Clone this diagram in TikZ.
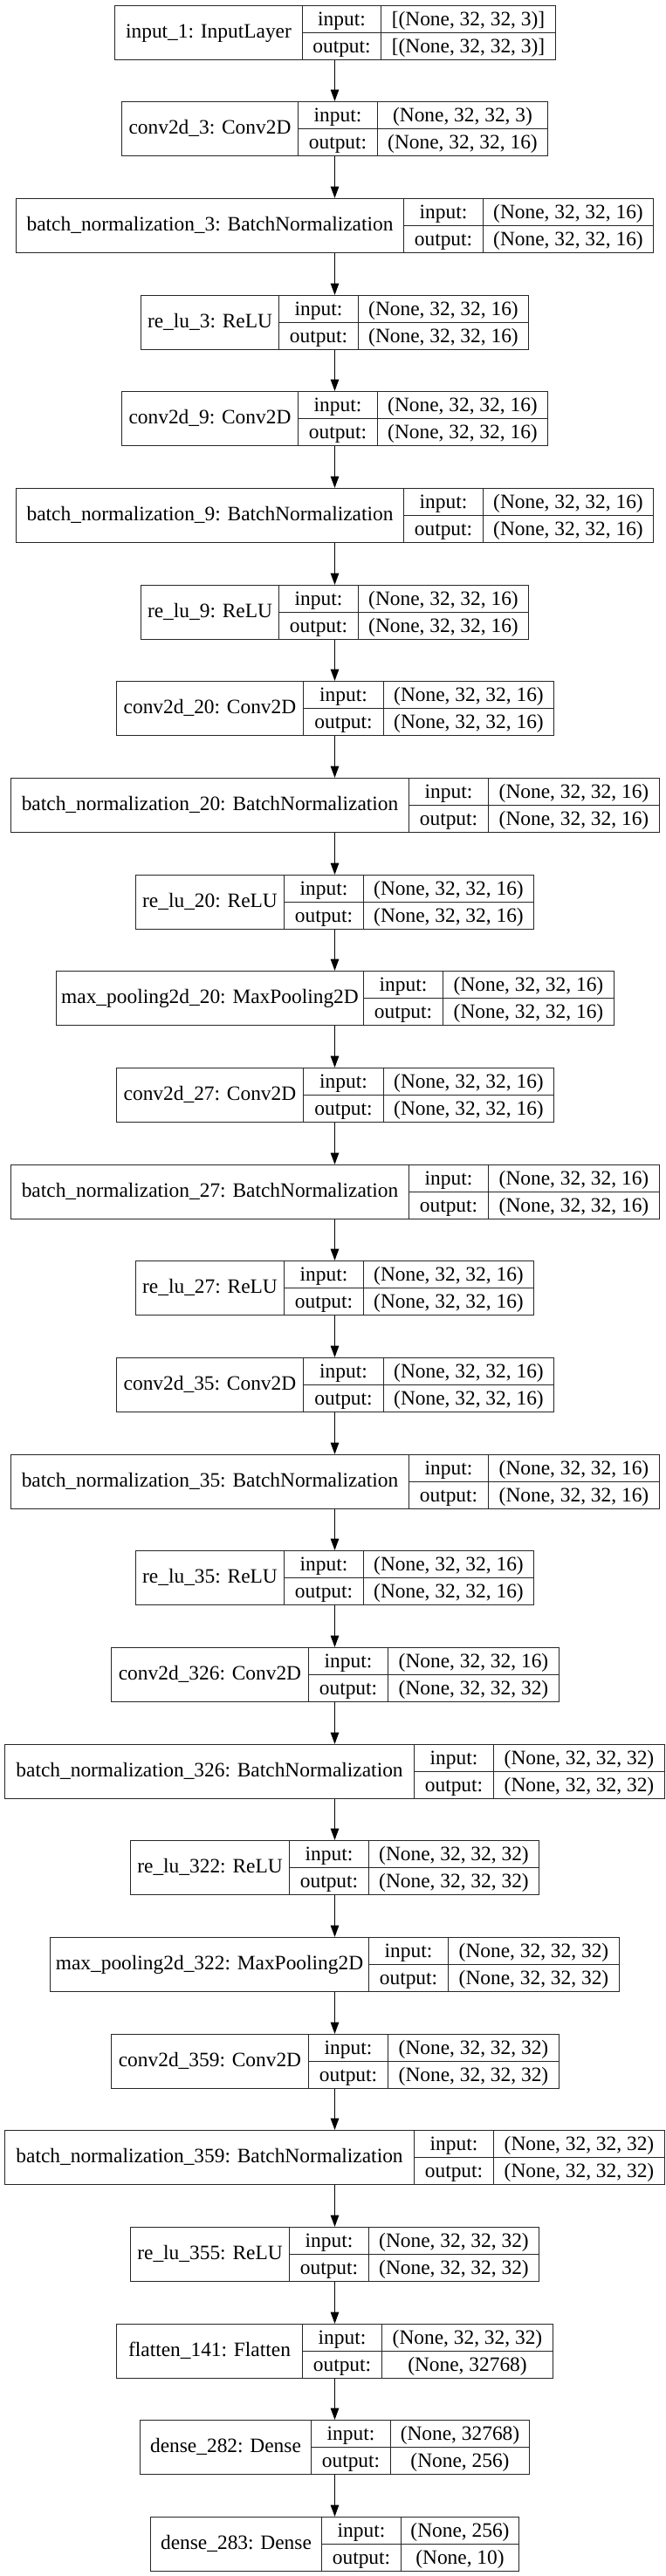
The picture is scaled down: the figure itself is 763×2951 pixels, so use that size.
\documentclass[tikz,border=0pt]{standalone}
\usepackage{fontspec}
\setmainfont{Liberation Serif}
\usetikzlibrary{arrows.meta}
\tikzset{
  boxst/.style={draw=black!85, line width=1.2pt, rectangle, inner sep=0pt, fill=white},
  divst/.style={draw=black!85, line width=1.2pt},
  txt/.style={anchor=base, inner sep=0pt, font=\fontsize{23.4}{26}\selectfont},
  arr/.style={draw=black, line width=1.2pt, -{Triangle[length=13.3pt, width=9.5pt]}}
}
% #1 name, #2 index, #3 L, #4 D1, #5 D2, #6 R, #7 label, #8 input, #9 output
\newcommand\layerbox[9]{%
  \pgfmathsetmacro\yt{round(5.7+110.66*#2)+0.5}%
  \pgfmathsetmacro\yb{\yt+62}%
  \pgfmathsetmacro\ym{\yt+31}%
  \pgfmathsetmacro\xl{round(#3)+0.5}%
  \pgfmathsetmacro\xa{round(#4)+0.5}%
  \pgfmathsetmacro\xb{round(#5)+0.5}%
  \pgfmathsetmacro\xr{round(#6)+0.5}%
  \pgfmathsetmacro\bw{\xr-\xl}%
  \pgfmathsetmacro\bx{(\xl+\xr)/2}%
  \node[boxst, minimum width=\bw pt, minimum height=62pt] (#1) at (\bx,\ym) {};
  \draw[divst] (\xa,\yt) -- (\xa,\yb);
  \draw[divst] (\xb,\yt) -- (\xb,\yb);
  \draw[divst] (\xa,\ym) -- (\xr,\ym);
  \node[txt] (#1-l) at ({(\xl+\xa)/2},\ym+5.5) {#7};
  \node[txt] (#1-ik) at ({(\xa+\xb)/2},\yt+15.5+7) {input:};
  \node[txt] (#1-iv) at ({(\xb+\xr)/2},\yt+15.5+7) {#8};
  \node[txt] (#1-ok) at ({(\xa+\xb)/2},\ym+15.5+7) {output:};
  \node[txt] (#1-ov) at ({(\xb+\xr)/2},\ym+15.5+7) {#9};
}
\begin{document}
\begin{tikzpicture}[x=1pt,y=-1pt]
\useasboundingbox (0,0) rectangle (763,2951);
\fill[white] (0,0) rectangle (763,2951);
\def\sixteen{(None, 32, 32, 16)}
\def\thirtytwo{(None, 32, 32, 32)}
\layerbox{b0}{0}{131.1}{345.7}{436.2}{635.7}{input\_1: InputLayer}{[(None, 32, 32, 3)]}{[(None, 32, 32, 3)]}
\layerbox{b1}{1}{139.4}{340.8}{432.3}{626.9}{conv2d\_3: Conv2D}{(None, 32, 32, 3)}{\sixteen}
\layerbox{b2}{2}{18.1}{462.1}{553.1}{748.2}{batch\_normalization\_3: BatchNormalization}{\sixteen}{\sixteen}
\layerbox{b3}{3}{160.9}{318.8}{409.8}{605.4}{re\_lu\_3: ReLU}{\sixteen}{\sixteen}
\layerbox{b4}{4}{139.4}{340.8}{432.3}{626.9}{conv2d\_9: Conv2D}{\sixteen}{\sixteen}
\layerbox{b5}{5}{18.1}{462.1}{553.1}{748.2}{batch\_normalization\_9: BatchNormalization}{\sixteen}{\sixteen}
\layerbox{b6}{6}{160.9}{318.8}{409.8}{605.4}{re\_lu\_9: ReLU}{\sixteen}{\sixteen}
\layerbox{b7}{7}{132.5}{346.7}{438.6}{634.2}{conv2d\_20: Conv2D}{\sixteen}{\sixteen}
\layerbox{b8}{8}{11.7}{468.0}{558.9}{754.5}{batch\_normalization\_20: BatchNormalization}{\sixteen}{\sixteen}
\layerbox{b9}{9}{154.5}{324.7}{416.1}{611.2}{re\_lu\_20: ReLU}{\sixteen}{\sixteen}
\layerbox{b10}{10}{63.6}{416.1}{507.1}{702.7}{max\_pooling2d\_20: MaxPooling2D}{\sixteen}{\sixteen}
\layerbox{b11}{11}{132.5}{346.7}{438.6}{634.2}{conv2d\_27: Conv2D}{\sixteen}{\sixteen}
\layerbox{b12}{12}{11.7}{468.0}{558.9}{754.5}{batch\_normalization\_27: BatchNormalization}{\sixteen}{\sixteen}
\layerbox{b13}{13}{154.5}{324.7}{416.1}{611.2}{re\_lu\_27: ReLU}{\sixteen}{\sixteen}
\layerbox{b14}{14}{132.5}{346.7}{438.6}{634.2}{conv2d\_35: Conv2D}{\sixteen}{\sixteen}
\layerbox{b15}{15}{11.7}{468.0}{558.9}{754.5}{batch\_normalization\_35: BatchNormalization}{\sixteen}{\sixteen}
\layerbox{b16}{16}{154.5}{324.7}{416.1}{611.2}{re\_lu\_35: ReLU}{\sixteen}{\sixteen}
\layerbox{b17}{17}{126.7}{352.6}{444.0}{639.6}{conv2d\_326: Conv2D}{\sixteen}{\thirtytwo}
\layerbox{b18}{18}{4.9}{473.9}{565.3}{760.9}{batch\_normalization\_326: BatchNormalization}{\thirtytwo}{\thirtytwo}
\layerbox{b19}{19}{148.7}{330.6}{421.5}{617.1}{re\_lu\_322: ReLU}{\thirtytwo}{\thirtytwo}
\layerbox{b20}{20}{57.2}{421.5}{513.0}{708.6}{max\_pooling2d\_322: MaxPooling2D}{\thirtytwo}{\thirtytwo}
\layerbox{b21}{21}{126.7}{352.6}{444.0}{639.6}{conv2d\_359: Conv2D}{\thirtytwo}{\thirtytwo}
\layerbox{b22}{22}{4.9}{473.9}{565.3}{760.9}{batch\_normalization\_359: BatchNormalization}{\thirtytwo}{\thirtytwo}
\layerbox{b23}{23}{148.7}{330.6}{421.5}{617.1}{re\_lu\_355: ReLU}{\thirtytwo}{\thirtytwo}
\layerbox{b24}{24}{133.0}{346.2}{437.2}{633.3}{flatten\_141: Flatten}{\thirtytwo}{(None, 32768)}
\layerbox{b25}{25}{160.4}{355.5}{446.5}{606.4}{dense\_282: Dense}{(None, 32768)}{(None, 256)}
\layerbox{b26}{26}{171.6}{367.7}{458.7}{594.2}{dense\_283: Dense}{(None, 256)}{(None, 10)}
\foreach \a/\b in {0/1,1/2,2/3,3/4,4/5,5/6,6/7,7/8,8/9,9/10,10/11,11/12,12/13,13/14,14/15,15/16,16/17,17/18,18/19,19/20,20/21,21/22,22/23,23/24,24/25,25/26}
  \draw[arr] (383.5,0 |- b\a.south) -- (383.5,0 |- b\b.north);
\end{tikzpicture}
\end{document}
